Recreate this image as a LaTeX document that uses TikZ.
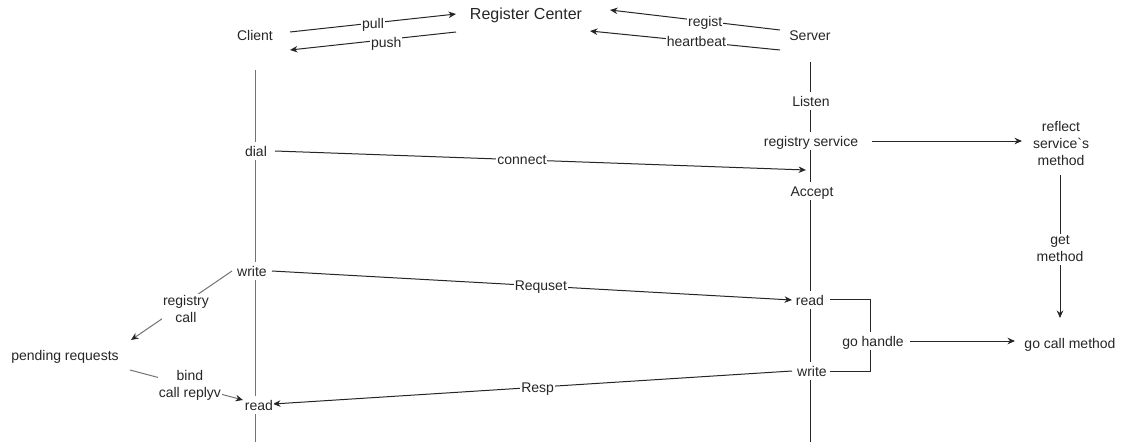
\documentclass[tikz,border=0pt]{standalone}
\usepackage{fontspec}
\setmainfont{Liberation Sans}
\usetikzlibrary{arrows.meta,backgrounds}
\newcommand\mystrut{\rule[-3pt]{0pt}{16pt}}
\begin{document}
\begin{tikzpicture}[x=1pt,y=-1pt,
  lbl/.style={font=\fontsize{14}{17}\selectfont, inner sep=1pt, fill=white, align=center, text=black!85,
    execute at begin node=\mystrut, execute at end node=\mystrut},
  big/.style={lbl, font=\fontsize{16}{19}\selectfont},
  arr/.style={draw=black!85, line width=1pt, -{Stealth[length=7.5pt,width=6.5pt]}},
  ln/.style={draw=black!85, line width=1pt},
  gl/.style={draw=black!55, line width=1pt},
  garr/.style={gl, -{Stealth[length=7.5pt,width=6.5pt,color=black!85]}}]
\useasboundingbox (0,0) rectangle (1125,442);

% participants
\node[lbl] (client) at (255,35) {Client};
\node[big] (rc) at (526,15) {Register Center};
\node[lbl] (server) at (810,35) {Server};

% client side
\node[lbl] (dial) at (256,151) {dial};
\node[lbl] (cwrite) at (252,271) {write};
\node[lbl] (cread) at (259,405) {read};
\node[lbl] (pending) at (65,355) {pending requests};

% server side
\node[lbl] (listen) at (811,101) {Listen};
\node[lbl] (regsvc) at (811,141) {registry service};
\node[lbl] (accept) at (812,191) {Accept};
\node[lbl] (sread) at (810,300) {read};
\node[lbl] (swrite) at (812,371) {write};
\node[lbl] (reflect) at (1061,145) {reflect\\service\textasciigrave s\\method};
\node[lbl] (gocall) at (1070,343) {go call method};
\node[lbl] (gohandle) at (873,341) {go handle};

% connector end points
\coordinate (pullS) at (290,32);  \coordinate (pullE) at (456,14);
\coordinate (pushS) at (456,32);  \coordinate (pushE) at (290,50);
\coordinate (regS) at (780,30);   \coordinate (regE) at (610,10);
\coordinate (hbS) at (780,50);    \coordinate (hbE) at (590,31);
\coordinate (clTop) at (255,70);  \coordinate (clBot) at (255,442);
\coordinate (svTop) at (810,62);  \coordinate (svBot) at (810,442);
\coordinate (conS) at (275,151);  \coordinate (conE) at (806,170);
\coordinate (reqS) at (272,271);  \coordinate (reqE) at (792,300);
\coordinate (rspS) at (792,371);  \coordinate (rspE) at (273,404);
\coordinate (rsS) at (872,141);   \coordinate (rsE) at (1022,141);
\coordinate (gmS) at (1060,175);  \coordinate (gmE) at (1060,318);
\coordinate (ghS) at (910,341);   \coordinate (ghE) at (1015,341);
\coordinate (brS) at (830,299);   \coordinate (brE) at (830,371);
\coordinate (rcS) at (232,271);   \coordinate (rcE) at (131,340);
\coordinate (bdS) at (130,370);   \coordinate (bdE) at (243,400);

\begin{pgfonlayer}{background}
  \draw[gl] (clTop) -- (clBot);
  \draw[ln] (svTop) -- (svBot);
  \draw[arr] (pullS) -- node[lbl]{pull} (pullE);
  \draw[arr] (pushS) -- node[lbl,pos=0.42,yshift=-3pt]{push} (pushE);
  \draw[arr] (regS) -- node[lbl,pos=0.44]{regist} (regE);
  \draw[arr] (hbS) -- node[lbl,pos=0.44]{heartbeat} (hbE);
  \draw[arr] (conS) -- node[lbl,pos=0.465]{connect} (conE);
  \draw[arr] (reqS) -- node[lbl,pos=0.517]{Requset} (reqE);
  \draw[arr] (rspS) -- node[lbl,pos=0.49]{Resp} (rspE);
  \draw[arr] (rsS) -- (rsE);
  \draw[arr] (gmS) -- node[lbl,pos=0.51,yshift=-2pt]{get\\method} (gmE);
  \draw[arr] (ghS) -- (ghE);
  \draw[ln] (brS) -- ++(40,0) |- (brE);
  \draw[garr] (rcS) -- node[lbl,pos=0.55,xshift=9.5pt,yshift=-1pt]{registry\\call} (rcE);
  \draw[garr] (bdS) -- node[lbl,pos=0.53]{bind\\call replyv} (bdE);
\end{pgfonlayer}
\end{tikzpicture}
\end{document}
